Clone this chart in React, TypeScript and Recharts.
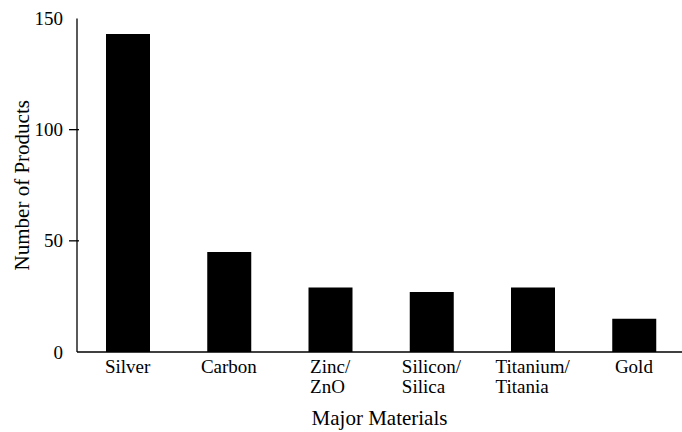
import { useEffect } from 'react';
import { BarChart, Bar, XAxis, YAxis } from 'recharts';

const materials = ['Silver', 'Carbon', 'Zinc/\nZnO', 'Silicon/\nSilica', 'Titanium/\nTitania', 'Gold'];
const productCounts = [143, 45, 29, 27, 29, 15];
const yTicks = [0, 50, 100, 150];

const chartData = materials.map((name, i) => ({ name, value: productCounts[i] }));

const FONT = 'Liberation Serif';
const TICK_SIZE = 19;
const TITLE_SIZE = 21;

const tickStyle = { fontFamily: FONT, fontSize: TICK_SIZE };
const titleStyle = { fontFamily: FONT, fontSize: TITLE_SIZE };

let ctx: CanvasRenderingContext2D | null = null;
function measure(text: string) {
  if (!ctx) ctx = document.createElement('canvas').getContext('2d');
  if (!ctx) return text.length * TICK_SIZE * 0.45;
  ctx.font = `${TICK_SIZE}px "${FONT}"`;
  return ctx.measureText(text).width;
}

// multi-line label: block centred under the bar, lines left-aligned
function XTick({ x, y, payload }: any) {
  const lines = String(payload.value).split('\n');
  const w = Math.max(...lines.map(measure));
  return (
    <text x={x - w / 2} y={y} style={tickStyle} fill="#000" textAnchor="start">
      {lines.map((l, i) => (
        <tspan key={i} x={x - w / 2} dy={i === 0 ? 13 : 20}>
          {l}
        </tspan>
      ))}
    </text>
  );
}

function LeftTick({ x, y, payload }: any) {
  const showLine = payload.value !== 0 && payload.value !== 150;
  return (
    <g>
      {showLine && <line x1={x} x2={x + 10} y1={y} y2={y} stroke="#000" strokeWidth={1.3} />}
      <text x={x - 6} y={y} dy="0.35em" textAnchor="end" style={tickStyle} fill="#000">
        {payload.value}
      </text>
    </g>
  );
}

// plot runs a few px past the right edge, so pull the inward ticks back into view
function RightTick({ x, y, payload }: any) {
  if (payload.value === 0 || payload.value === 150) return <g />;
  return <line x1={x - 11.5} x2={x - 2.5} y1={y} y2={y} stroke="#000" strokeWidth={1.3} />;
}

export default function App() {
  useEffect(() => {
    document.body.style.margin = '0';
  }, []);

  return (
    <div style={{ width: 682, height: 432, background: '#fff', fontFamily: FONT }}>
      <BarChart
        width={682}
        height={432}
        data={chartData}
        margin={{ top: 18.5, right: -3.5, bottom: 0, left: 0 }}
      >
        <XAxis
          dataKey="name"
          height={80}
          interval={0}
          tickLine={false}
          axisLine={{ stroke: '#000', strokeWidth: 1.3 }}
          tick={<XTick />}
          label={{
            content: ({ viewBox }: any) => (
              <text x={379.5} y={viewBox.y + 73} textAnchor="middle" style={titleStyle} fill="#000">
                Major Materials
              </text>
            ),
          }}
        />
        <XAxis
          xAxisId="top"
          dataKey="name"
          orientation="top"
          height={0}
          tick={false}
          tickLine={false}
          axisLine={{ stroke: '#000', strokeWidth: 1.3 }}
        />
        <YAxis
          width={77}
          domain={[0, 150]}
          ticks={yTicks}
          interval={0}
          tickLine={false}
          axisLine={{ stroke: '#000', strokeWidth: 1.3 }}
          tick={<LeftTick />}
          label={{
            content: ({ viewBox }: any) => {
              const cx = 22;
              const cy = viewBox.y + viewBox.height / 2;
              return (
                <text
                  x={cx}
                  y={cy}
                  dy="0.35em"
                  transform={`rotate(-90, ${cx}, ${cy})`}
                  textAnchor="middle"
                  style={titleStyle}
                  fill="#000"
                >
                  Number of Products
                </text>
              );
            },
          }}
        />
        <YAxis
          yAxisId="right"
          orientation="right"
          width={1}
          domain={[0, 150]}
          ticks={yTicks}
          interval={0}
          tickLine={false}
          axisLine={false}
          tick={<RightTick />}
        />
        <Bar dataKey="value" fill="#000" barSize={44} isAnimationActive={false} />
      </BarChart>
    </div>
  );
}
